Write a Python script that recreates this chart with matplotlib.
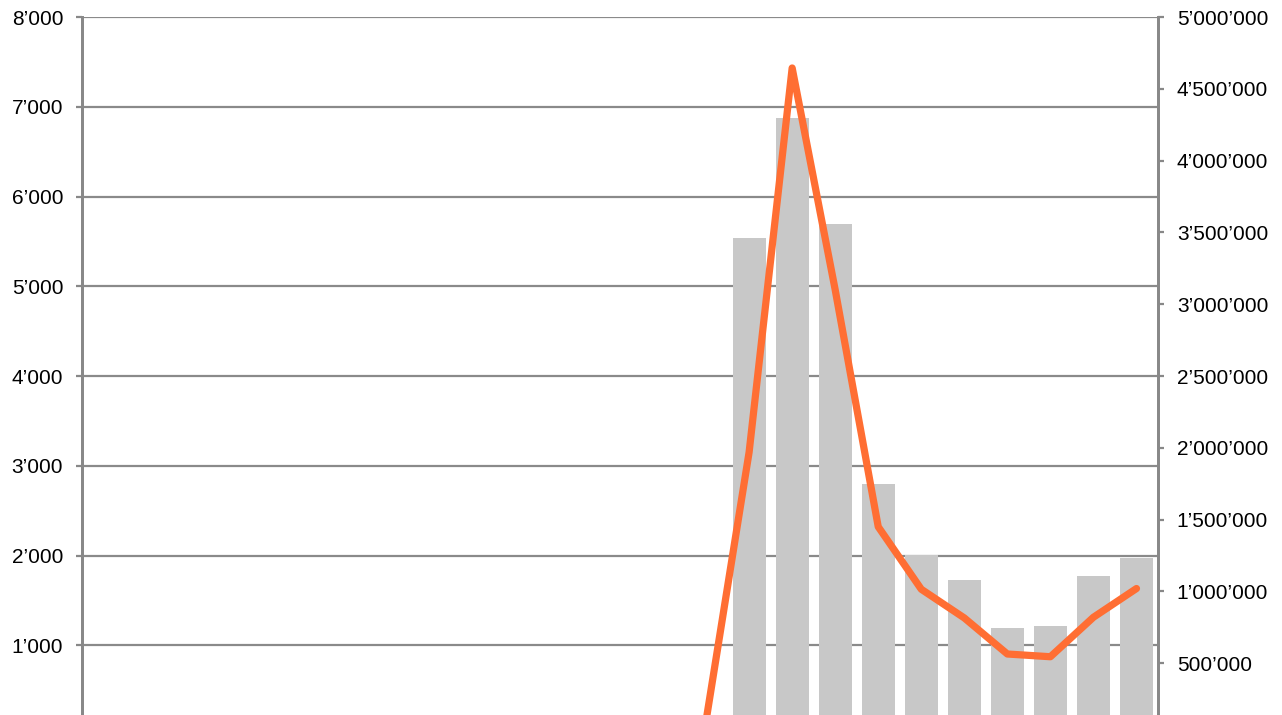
import numpy as np
import matplotlib.pyplot as plt
from matplotlib.ticker import FuncFormatter, MultipleLocator

plt.rcParams['font.family'] = ['Liberation Sans', 'DejaVu Sans']

# 25 periods, only the last ten carry visible data
periods = list(range(25))
bar_values = [0] * 15 + [5540, 6870, 5690, 2800, 2010, 1730, 1190, 1220, 1770, 1970]
line_values = [np.nan] * 14 + [100000, 1970000, 4645000, 3100000, 1450000,
                                1015000, 815000, 564000, 545000, 820000, 1020000]

def swiss(v, pos=None):
    # zero label sits below the crop in the original
    if v <= 0:
        return ''
    return f'{int(round(v)):,}'.replace(',', '\u2019')

fig = plt.figure(figsize=(12.82, 7.15), dpi=100)
# axes runs past the bottom edge, like the cropped original
ax = fig.add_axes([82 / 1282, -20 / 715, 1076 / 1282, 718 / 715])
ax2 = ax.twinx()

ax.bar(periods, bar_values, width=0.77, color='#c8c8c8', zorder=2)
ax.set_xlim(-0.5, 24.5)
ax.set_ylim(0, 8000)
ax.yaxis.set_major_locator(MultipleLocator(1000))
ax.yaxis.set_major_formatter(FuncFormatter(swiss))
ax.grid(axis='y', color='#8a8a8a', linewidth=1.6, zorder=0)
ax.set_axisbelow(True)
ax.set_xticks([])

ax2.plot(periods, line_values, color='#ff6e33', linewidth=5.2,
         solid_joinstyle='round', solid_capstyle='round', zorder=3)
ax2.set_ylim(0, 5000000)
ax2.yaxis.set_major_locator(MultipleLocator(500000))
ax2.yaxis.set_major_formatter(FuncFormatter(swiss))

for a in (ax, ax2):
    for s in ('top', 'bottom'):
        a.spines[s].set_visible(False)
    a.spines['left'].set_color('#888888')
    a.spines['right'].set_color('#888888')
    a.spines['left'].set_linewidth(2)
    a.spines['right'].set_linewidth(2)
    a.tick_params(axis='y', colors='#888888', labelcolor='black',
                  labelsize=15, length=4.5, width=1.6)
ax.tick_params(axis='y', pad=9)
ax2.tick_params(axis='y', pad=9)
ax2.set_xticks([])

fig.savefig('out.png', dpi=100)
